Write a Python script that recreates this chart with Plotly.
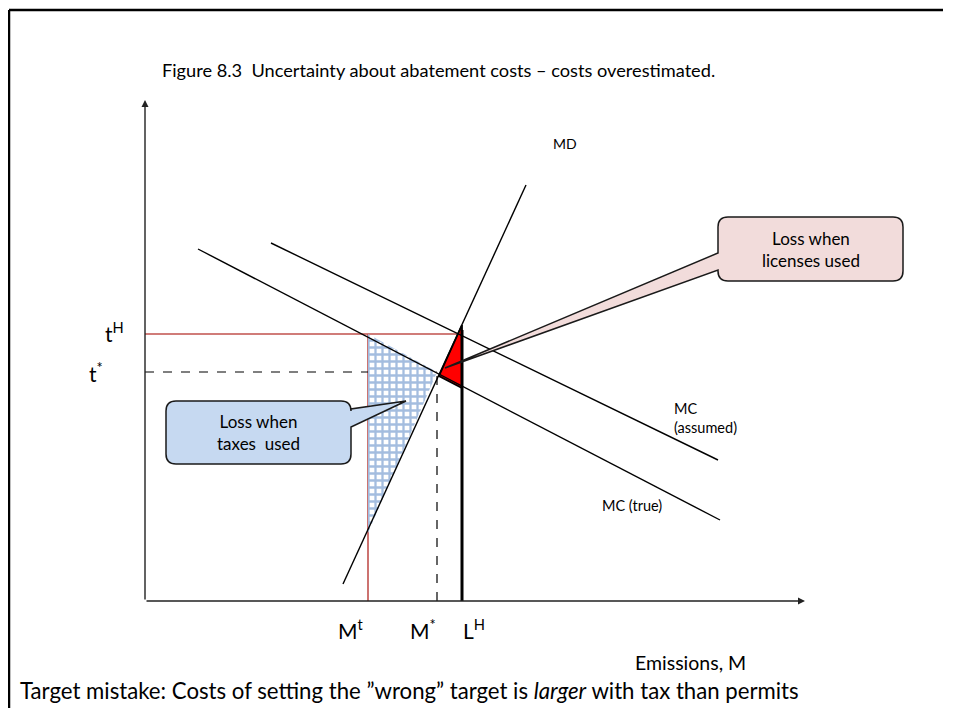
import plotly.graph_objects as go

# ---- data (origin at the axes' corner, units ~ pixels) ----
md_x = [198, 381]
md_y = [17, 416]
mc_true_x = [53, 575]
mc_true_y = [352, 81]
mc_assumed_x = [126, 573]
mc_assumed_y = [358, 141]

t_high = 267      # t^H
t_star = 229      # t*
m_t = 223         # M^t
m_star = 292      # M*
l_high = 317      # L^H
axis_x_end = 660
axis_y_end = 501

tax_loss_x = [223, 292, 223]
tax_loss_y = [267, 229, 68]
lic_loss_x = [317, 294, 317]
lic_loss_y = [276, 225, 213]

# callouts: box x0, x1, y_bottom, y_top, tail base (low, high), tail tip
blue_box = dict(x0=21, x1=206, yb=137, yt=200, tb=(174, 192), tip=(261, 200))
pink_box = dict(x0=573, x1=758, yb=320, yt=384, tb=(331, 348), tip=(300, 233))

FONT = "Lato"

fig = go.Figure()

# red guide lines (t^H and M^t)
fig.add_trace(go.Scatter(x=[0, l_high - 2], y=[t_high, t_high], mode="lines",
                         line=dict(color="#C0504D", width=1.6), hoverinfo="skip"))
fig.add_trace(go.Scatter(x=[m_t, m_t], y=[0, t_high], mode="lines",
                         line=dict(color="#C0504D", width=1.6), hoverinfo="skip"))
# dashed t* and M*
fig.add_trace(go.Scatter(x=[0, m_star], y=[t_star, t_star], mode="lines",
                         line=dict(color="black", width=1.2, dash="dash"), hoverinfo="skip"))
fig.add_trace(go.Scatter(x=[m_star, m_star], y=[0, t_star], mode="lines",
                         line=dict(color="black", width=1.2, dash="dash"), hoverinfo="skip"))

# hatched loss area (taxes)
fig.add_trace(go.Scatter(x=tax_loss_x + [tax_loss_x[0]], y=tax_loss_y + [tax_loss_y[0]],
                         mode="lines", fill="toself", line=dict(width=0, color="rgba(0,0,0,0)"),
                         fillcolor="white",
                         fillpattern=dict(shape="+", fgcolor="#4A7CC0", bgcolor="white",
                                          size=7, solidity=0.55),
                         hoverinfo="skip"))
# red loss area (licenses)
fig.add_trace(go.Scatter(x=lic_loss_x + [lic_loss_x[0]], y=lic_loss_y + [lic_loss_y[0]],
                         mode="lines", fill="toself", fillcolor="#FF0000",
                         line=dict(color="black", width=1.8), hoverinfo="skip"))

# curves
for xs, ys in [(md_x, md_y), (mc_true_x, mc_true_y), (mc_assumed_x, mc_assumed_y)]:
    fig.add_trace(go.Scatter(x=xs, y=ys, mode="lines",
                             line=dict(color="black", width=1.4), hoverinfo="skip"))

# L^H licence line
fig.add_trace(go.Scatter(x=[l_high, l_high], y=[0, 271], mode="lines",
                         line=dict(color="black", width=3), hoverinfo="skip"))

# axes with arrows
fig.add_annotation(x=axis_x_end, y=0, ax=0, ay=0, xref="x", yref="y", axref="x", ayref="y",
                   showarrow=True, arrowhead=2, arrowsize=1, arrowwidth=1.4,
                   arrowcolor="#222", text="")
fig.add_annotation(x=0, y=axis_y_end, ax=0, ay=0, xref="x", yref="y", axref="x", ayref="y",
                   showarrow=True, arrowhead=2, arrowsize=1, arrowwidth=1.4,
                   arrowcolor="#222", text="")


def callout_path(b, side):
    x0, x1, yb, yt = b["x0"], b["x1"], b["yb"], b["yt"]
    lo, hi = b["tb"]
    tx, ty = b["tip"]
    r = 10
    p = f"M {x0 + r},{yt} L {x1 - r},{yt} Q {x1},{yt} {x1},{yt - r} "
    if side == "right":
        p += f"L {x1},{hi} L {tx},{ty} L {x1},{lo} "
    p += f"L {x1},{yb + r} Q {x1},{yb} {x1 - r},{yb} L {x0 + r},{yb} Q {x0},{yb} {x0},{yb + r} "
    if side == "left":
        p += f"L {x0},{lo} L {tx},{ty} L {x0},{hi} "
    p += f"L {x0},{yt - r} Q {x0},{yt} {x0 + r},{yt} Z"
    return p


fig.add_shape(type="path", path=callout_path(blue_box, "right"), xref="x", yref="y",
              fillcolor="#C6D9F1", line=dict(color="#1a1a1a", width=1.5), layer="above")
fig.add_shape(type="path", path=callout_path(pink_box, "left"), xref="x", yref="y",
              fillcolor="#F2DCDB", line=dict(color="#1a1a1a", width=1.5), layer="above")

# slide frame (top and left edges visible)
fig.add_shape(type="line", x0=-136, x1=798, y0=591, y1=591, xref="x", yref="y",
              line=dict(color="black", width=2.5))
fig.add_shape(type="line", x0=-136, x1=-136, y0=591, y1=-107, xref="x", yref="y",
              line=dict(color="black", width=2.5))


def txt(x, y, s, size, xanchor="center", yanchor="middle", align="center"):
    fig.add_annotation(x=x, y=y, xref="x", yref="y", text=s, showarrow=False,
                       font=dict(family=FONT, size=size, color="black"),
                       xanchor=xanchor, yanchor=yanchor, align=align)


txt(15, 531, "Figure 8.3  Uncertainty about abatement costs \u2013 costs overestimated.", 18.2,
    xanchor="left")
txt(420, 458, "MD", 14)
txt(527, 183, "MC<br>(assumed)", 14.5, xanchor="left", align="left")
txt(455, 96, "MC (true)", 14.5, xanchor="left")
txt((blue_box["x0"] + blue_box["x1"]) / 2, (blue_box["yb"] + blue_box["yt"]) / 2,
    "Loss when<br>taxes  used", 17)
txt((pink_box["x0"] + pink_box["x1"]) / 2, (pink_box["yb"] + pink_box["yt"]) / 2,
    "Loss when<br>licenses used", 17)
txt(-31, t_high + 2, "t<sup>H</sup>", 21)
txt(-49, t_star, "t<sup>*</sup>", 21)
txt(m_t - 17, -28, "M<sup>t</sup>", 21)
txt(m_star - 14, -28, "M<sup>*</sup>", 21)
txt(l_high + 12, -28, "L<sup>H</sup>", 21)
txt(488, -61, "Emissions, M", 19.5, xanchor="left")
txt(-127, -89, "Target mistake: Costs of setting the \u201dwrong\u201d target is <i>larger</i> with tax than permits",
    22.2, xanchor="left")

# page has an 8px body margin: size and range compensate so marks land on the same pixels
fig.update_layout(
    width=935, height=700,
    margin=dict(l=0, r=0, t=0, b=0),
    paper_bgcolor="white", plot_bgcolor="white",
    showlegend=False,
    xaxis=dict(range=[-137, 798], visible=False, fixedrange=True),
    yaxis=dict(range=[-107, 593], visible=False, fixedrange=True),
)

fig.write_html("out.html")
